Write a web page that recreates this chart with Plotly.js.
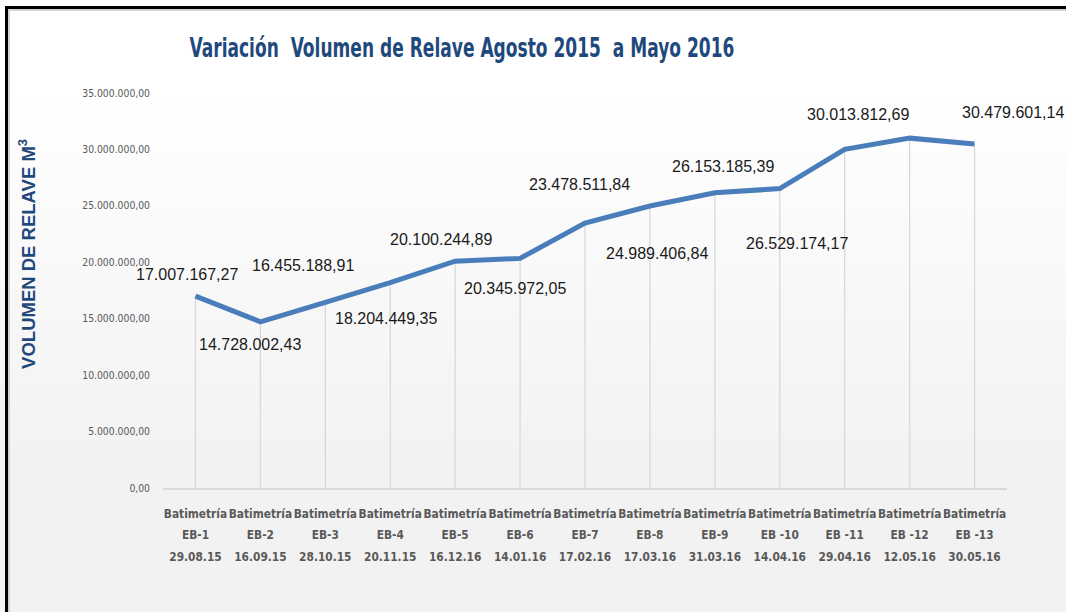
<!DOCTYPE html>
<html>
<head>
<meta charset="utf-8">
<script src="https://cdn.plot.ly/plotly-3.0.1.min.js"></script>
<style>
  html, body { margin: 0; padding: 0; }
  body {
    width: 1066px; height: 612px; overflow: hidden; position: relative;
    background: linear-gradient(to bottom, #ffffff 0px, #ffffff 95px, #f9f9f9 260px, #f2f2f2 470px, #f2f2f2 612px);
  }
  #chart { position: absolute; left: 0; top: 0; width: 1066px; height: 612px; }
  #frame {
    position: absolute; left: 5px; top: 6px; right: -10px; bottom: -10px;
    border-top: 3px solid #000; border-left: 3px solid #000;
    pointer-events: none; z-index: 5;
  }
  #shadow {
    position: absolute; left: 8px; top: 9px; right: -10px; bottom: -10px;
    border-top: 2px solid #d4d4d4; border-left: 2px solid #d4d4d4;
    pointer-events: none; z-index: 4;
  }
</style>
</head>
<body>
<div id="chart"></div>
<div id="shadow"></div>
<div id="frame"></div>
<script>
// ---- data ----
var prefix = ['Batimetría','Batimetría','Batimetría','Batimetría','Batimetría','Batimetría','Batimetría',
              'Batimetría','Batimetría','Batimetría','Batimetría','Batimetría','Batimetría'];
var stations = ['EB-1','EB-2','EB-3','EB-4','EB-5','EB-6','EB-7','EB-8','EB-9','EB -10','EB -11','EB -12','EB -13'];
var dates = ['29.08.15','16.09.15','28.10.15','20.11.15','16.12.16','14.01.16','17.02.16',
             '17.03.16','31.03.16','14.04.16','29.04.16','12.05.16','30.05.16'];
var volumes = [17007167.27, 14728002.43, 16455188.91, 18204449.35, 20100244.89, 20345972.05, 23478511.84,
               24989406.84, 26153185.39, 26529174.17, 30013812.69, 31000000, 30479601.14];
var labelShown = [true, true, true, true, true, true, true, true, true, true, true, false, true];
var yTicks = [0, 5000000, 10000000, 15000000, 20000000, 25000000, 30000000, 35000000];

// label offsets in pixels (placement only)
var labelShift = [[-8,22],[-10,-23],[-22,37],[-4,-36],[-14,22],[-5,-30],[-6,39],
                  [7,-48],[8,26],[17,-55],[13,35],[0,0],[38,32]];

function fmt(v) {
  var s = v.toFixed(2);
  var parts = s.split('.');
  var intp = parts[0].replace(/\B(?=(\d{3})+(?!\d))/g, '.');
  return intp + ',' + parts[1];
}

var cond = '"DejaVu Sans Condensed", "DejaVu Sans", sans-serif';
var arial = '"Liberation Sans", Arial, sans-serif';

var sp = function (t) { return '<span style="font-size:11.8px">' + t + '</span>'; };
var tickText = stations.map(function (s, i) { return sp(prefix[i]) + '<br>' + sp(s) + '<br>' + sp(dates[i]); });

// drop lines from each point to the axis
var dropX = [], dropY = [];
stations.forEach(function (s, i) { dropX.push(s, s, null); dropY.push(0, volumes[i], null); });

var traces = [
  { x: dropX, y: dropY, type: 'scatter', mode: 'lines',
    line: { color: '#d9d9d9', width: 1.3 }, hoverinfo: 'skip', showlegend: false },
  { x: stations, y: volumes, type: 'scatter', mode: 'lines',
    line: { color: '#4a7ebb', width: 5 }, showlegend: false }
];

var annotations = [];
stations.forEach(function (s, i) {
  if (!labelShown[i]) return;
  annotations.push({
    x: s, y: volumes[i], xref: 'x', yref: 'y', text: fmt(volumes[i]), showarrow: false,
    xshift: labelShift[i][0], yshift: labelShift[i][1],
    font: { family: arial, size: 16, color: '#1a1a1a' }
  });
});
annotations.push({
  xref: 'paper', yref: 'paper', x: -0.161, y: 0.593, xanchor: 'center', yanchor: 'middle',
  text: 'VOLUMEN DE RELAVE M<sup>3</sup>', textangle: -90, showarrow: false,
  font: { family: arial, size: 18.5, color: '#1f497d', weight: 'bold' }
});

var layout = {
  width: 1066, height: 612,
  paper_bgcolor: 'rgba(0,0,0,0)', plot_bgcolor: 'rgba(0,0,0,0)',
  margin: { l: 163, r: 59, t: 93, b: 124 },
  separators: ',.',
  title: {
    text: 'Variación  Volumen de Relave Agosto 2015  a Mayo 2016',
    x: 0.4334, xanchor: 'center', xref: 'container', y: 0.921, yref: 'container', yanchor: 'middle',
    font: { family: cond, size: 26, color: '#1f497d', weight: 'bold' }
  },
  xaxis: {
    type: 'category', range: [-0.5, 12.5],
    tickmode: 'array', tickvals: stations, ticktext: tickText, tickangle: 0,
    showgrid: false, zeroline: false, showline: true, linecolor: '#d9d9d9', linewidth: 2,
    ticks: '', ticklabelstandoff: 8,
    tickfont: { family: cond, size: 16.5, color: '#595959', weight: 'bold' }
  },
  yaxis: {
    range: [0, 35000000], tickmode: 'array', tickvals: yTicks, tickformat: ',.2f',
    showgrid: false, zeroline: false, showline: false, ticks: '', ticklabelstandoff: 12,
    tickfont: { family: cond, size: 10.3, color: '#595959' }
  },
  annotations: annotations,
  showlegend: false
};

Plotly.newPlot('chart', traces, layout, { displayModeBar: false, staticPlot: true }).then(function () {
  // condense the title horizontally to match the narrow face of the original
  var t = document.querySelector('#chart .gtitle');
  if (t) {
    var bb = t.getBBox();
    var target = 545;
    var s = Math.min(1, target / bb.width);
    var cx = bb.x + bb.width / 2;
    t.setAttribute('transform', 'translate(' + cx + ',0) scale(' + s + ',1) translate(' + (-cx) + ',0)');
  }
});
</script>
</body>
</html>
